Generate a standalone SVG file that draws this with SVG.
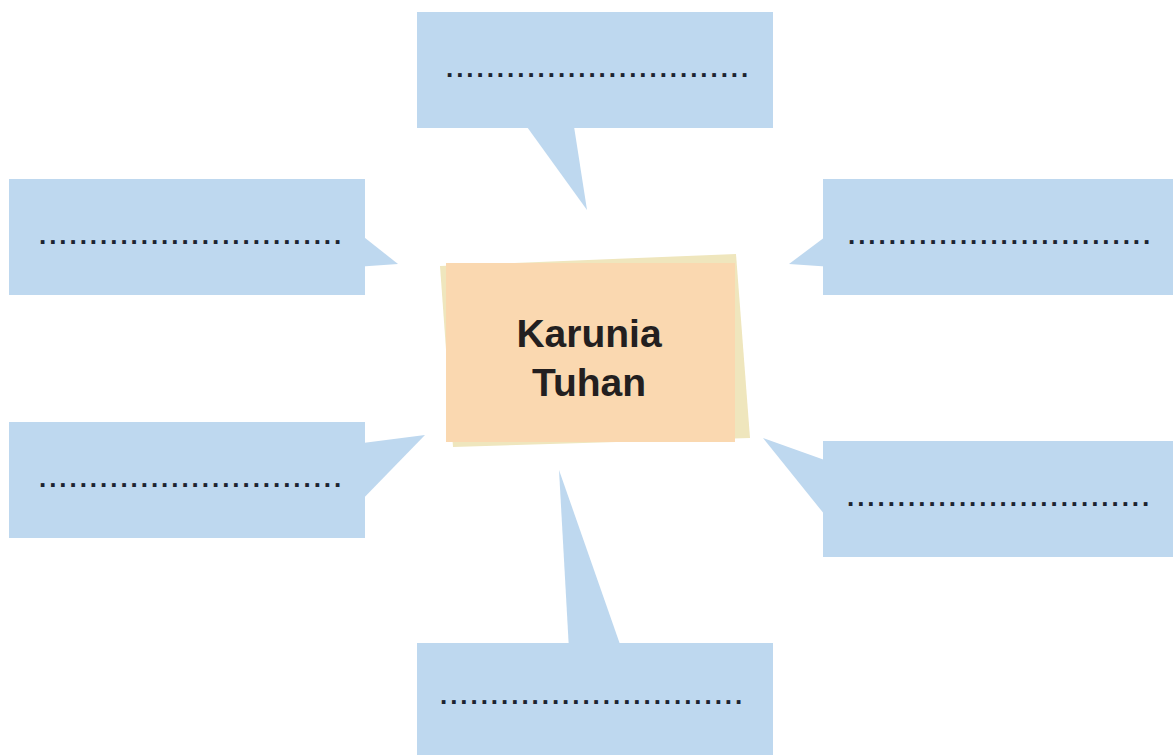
<svg xmlns="http://www.w3.org/2000/svg" width="1173" height="755" viewBox="0 0 1173 755">
<style>
.bubble{fill:#bed8ef;}
.dots{font-family:"Liberation Sans",Arial,sans-serif;font-size:26px;font-weight:bold;letter-spacing:2.95px;fill:#1c2431;}
.title{font-family:"Liberation Sans",Arial,sans-serif;font-size:39px;font-weight:bold;fill:#231f20;text-anchor:middle;}
</style>
<rect width="1173" height="755" fill="#ffffff"/>
<g id="connectors" class="bubble">
<polygon points="522,120 587,210 573,120"/>
<polygon points="355,230 398,264 355,267"/>
<polygon points="355,444 425,435 355,507"/>
<polygon points="833,231 789,264 833,267"/>
<polygon points="833,463 763,438 833,525"/>
<polygon points="569,650 559,470 622,650"/>
</g>
<g id="node-top">
<rect class="bubble" x="417" y="12" width="356" height="116"/>
<text class="dots" x="446" y="77">..............................</text>
</g>
<g id="node-left-top">
<rect class="bubble" x="9" y="179" width="356" height="116"/>
<text class="dots" x="39" y="244">..............................</text>
</g>
<g id="node-left-bottom">
<rect class="bubble" x="9" y="422" width="356" height="116"/>
<text class="dots" x="39" y="487">..............................</text>
</g>
<g id="node-right-top">
<rect class="bubble" x="823" y="179" width="350" height="116"/>
<text class="dots" x="848" y="244">..............................</text>
</g>
<g id="node-right-bottom">
<rect class="bubble" x="823" y="441" width="350" height="116"/>
<text class="dots" x="847" y="506">..............................</text>
</g>
<g id="node-bottom">
<rect class="bubble" x="417" y="643" width="356" height="112"/>
<text class="dots" x="440" y="704">..............................</text>
</g>
<g id="node-center">
<polygon points="440,266 736,254 750,438 453,447" fill="#efe6bd"/>
<rect x="446" y="263" width="289" height="179" fill="#fad8b0"/>
<text class="title" x="589" y="347">Karunia</text>
<text class="title" x="589" y="396">Tuhan</text>
</g>
</svg>
